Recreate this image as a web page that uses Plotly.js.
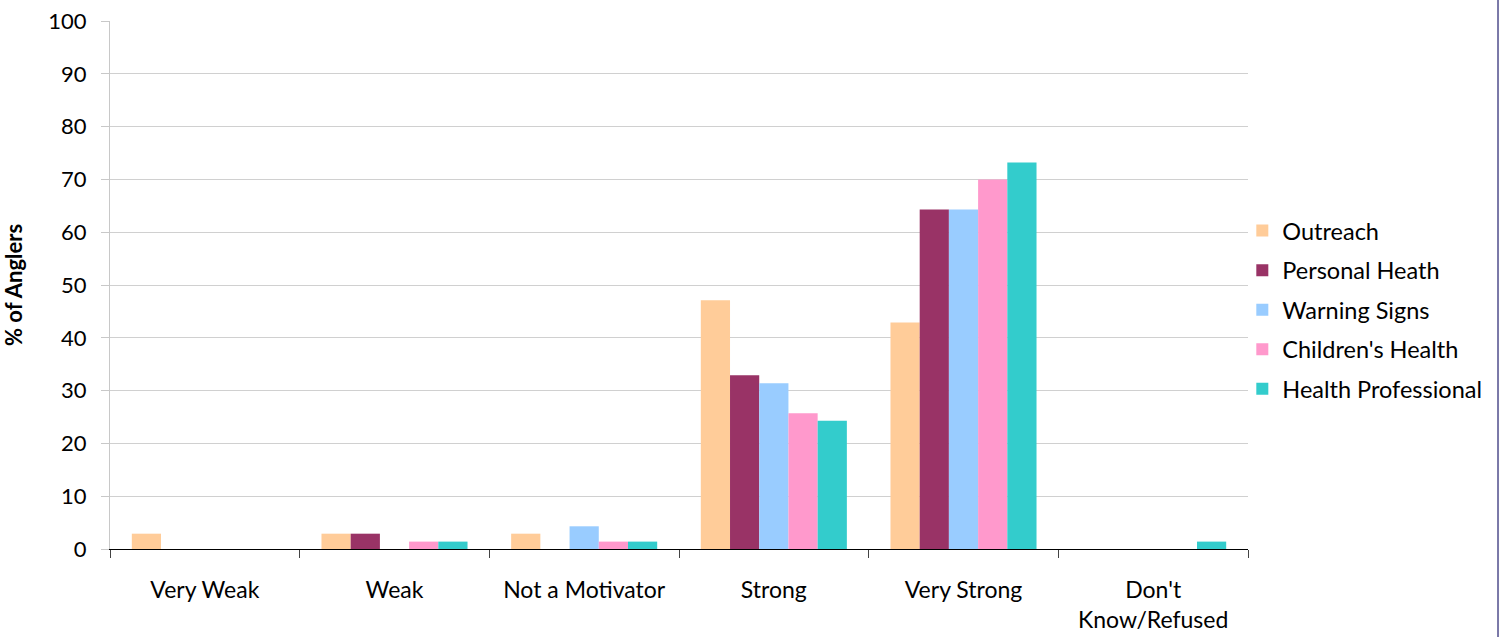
<!DOCTYPE html>
<html>
<head>
<meta charset="utf-8">
<script src="https://cdn.plot.ly/plotly-3.0.1.min.js"></script>
<style>html,body{margin:0;padding:0;background:#fff;}#chart{width:1500px;height:637px;}</style>
</head>
<body>
<div id="chart"></div>
<script>
const categories = ["Very Weak", "Weak", "Not a Motivator", "Strong", "Very Strong", "Don't<br>Know/Refused"];
const seriesNames = ["Outreach", "Personal Heath", "Warning Signs", "Children's Health", "Health Professional"];
const outreach = [2.9, 2.9, 2.9, 47.1, 42.9, 0];
const personalHeath = [0, 2.9, 0, 32.9, 64.3, 0];
const warningSigns = [0, 0, 4.3, 31.4, 64.3, 0];
const childrensHealth = [0, 1.4, 1.4, 25.7, 70.0, 0];
const healthProfessional = [0, 1.4, 1.4, 24.3, 73.2, 1.4];
const yTicks = [0, 10, 20, 30, 40, 50, 60, 70, 80, 90, 100];

const seriesValues = [outreach, personalHeath, warningSigns, childrensHealth, healthProfessional];
const colors = ["#FFCC99", "#993366", "#99CCFF", "#FF99CC", "#33CCCC"];
const font = "Lato, 'Open Sans', sans-serif";

const data = seriesValues.map((vals, i) => ({
  type: "bar",
  name: seriesNames[i],
  x: categories,
  y: vals,
  marker: {color: colors[i]},
  legendgroup: "g" + i,
  hoverinfo: "x+y+name"
}));

const layout = {
  width: 1500, height: 637,
  margin: {l: 110, r: 252, t: 21, b: 88},
  paper_bgcolor: "#fff", plot_bgcolor: "#fff",
  barmode: "group",
  bargap: 0.23,
  bargroupgap: 0,
  font: {family: font, size: 23, color: "#000"},
  showlegend: true,
  legend: {
    x: 0.995, xanchor: "left", y: 0.453, yanchor: "middle",
    bgcolor: "rgba(0,0,0,0)",
    font: {family: font, size: 23.5, color: "#000"},
    tracegroupgap: 6,
    itemwidth: 30
  },
  xaxis: {
    type: "category",
    showline: true, linecolor: "#000", linewidth: 1,
    ticks: "outside", tickson: "boundaries", ticklen: 8, tickcolor: "#444",
    ticklabelstandoff: 20,
    tickfont: {family: font, size: 23, color: "#000"},
    showgrid: false, zeroline: false,
    fixedrange: true
  },
  yaxis: {
    range: [0, 100],
    tickvals: yTicks,
    showline: true, linecolor: "#c8c8c8", linewidth: 1,
    ticks: "outside", ticklen: 8, tickcolor: "#c8c8c8",
    showgrid: true, gridcolor: "#d0d0d0", gridwidth: 1,
    zeroline: false,
    tickfont: {family: font, size: 22, color: "#000"},
    ticklabelstandoff: 10,
    title: {text: "% of Anglers", font: {family: font, size: 22, color: "#000", weight: "bold"}, standoff: 30},
    fixedrange: true
  },
  shapes: [
    {type: "line", xref: "paper", yref: "paper", x0: 1.2197, x1: 1.2197, y0: -0.17, y1: 1.05, line: {color: "#7a78a8", width: 2}}
  ]
};

Plotly.newPlot("chart", data, layout, {displayModeBar: false, staticPlot: true});
</script>
</body>
</html>
